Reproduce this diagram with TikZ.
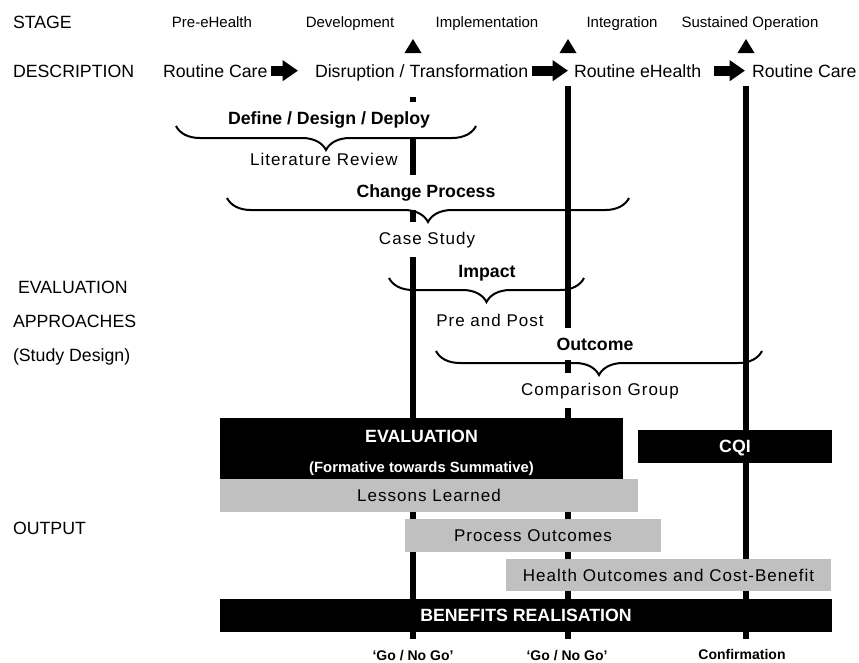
\documentclass[tikz,border=0pt]{standalone}
\usepackage{fontspec}
\setmainfont{Liberation Sans}
\newfontfamily\spacedfont[LetterSpace=6]{Liberation Sans}
\usetikzlibrary{decorations.pathreplacing,arrows.meta}

\definecolor{panelgrey}{RGB}{192,192,192}

\tikzset{
  every node/.style={inner sep=0pt, outer sep=0pt},
  rowlabel/.style={font=\fontsize{13.3}{16}\selectfont, anchor=base west},
  stagename/.style={font=\fontsize{11.25}{13}\selectfont, anchor=base},
  desc/.style={font=\fontsize{13.3}{16}\selectfont, anchor=base west},
  heading/.style={font=\fontsize{13.3}{16}\selectfont\bfseries, anchor=base,
    fill=white, inner xsep=2pt, inner ysep=7pt},
  design/.style={font=\spacedfont\fontsize{12.75}{15}\selectfont, anchor=base,
    fill=white, inner xsep=2pt, inner ysep=7pt},
  stem/.style={line width=4.5pt},
  gate/.style={fill=black},
  flow/.style={line width=7.5pt, -{Triangle[length=11.5pt, width=15pt]}},
  bracket/.style={decorate, decoration={brace, amplitude=18pt, mirror}, line width=1.5pt},
  blackbox/.style={fill=black, text=white, font=\fontsize{13.3}{16}\selectfont\bfseries,
    anchor=north west, text height=9.5pt, text depth=0pt},
  greybox/.style={fill=panelgrey, font=\spacedfont\fontsize{12.75}{15}\selectfont,
    anchor=north west, text height=9.1pt, text depth=0pt},
  boxtext/.style={text=white, font=\fontsize{13.3}{16}\selectfont\bfseries, anchor=base},
  boxsub/.style={text=white, font=\fontsize{11.1}{13}\selectfont\bfseries, anchor=base},
  milestone/.style={font=\fontsize{10.5}{12}\selectfont\bfseries, anchor=base},
}

\begin{document}
\begin{tikzpicture}[x=0.75pt, y=-0.75pt]
\useasboundingbox (0,0) rectangle (859,662);

% row labels
\node[rowlabel] (lstage) at (13,28) {STAGE};
\node[rowlabel] (ldesc) at (13,77) {DESCRIPTION};
\node[rowlabel] (leval) at (18,293) {EVALUATION};
\node[rowlabel] (lappr) at (13,327) {APPROACHES};
\node[rowlabel] (lstudy) at (13,361) {(Study Design)};
\node[rowlabel] (lout) at (13,534) {OUTPUT};

% stages
\node[stagename] (s1) at (212,27) {Pre-eHealth};
\node[stagename] (s2) at (350,27) {Development};
\node[stagename] (s3) at (487,27) {Implementation};
\node[stagename] (s4) at (622,27) {Integration};
\node[stagename] (s5) at (750,27) {Sustained Operation};

% description row
\node[desc] (rc1) at (163,77) {Routine Care};
\node[desc] (dis) at (315,77) {Disruption / Transformation};
\node[desc] (reh) at (574,77) {Routine eHealth};
\node[desc] (rc2) at (752,77) {Routine Care};

\draw[flow, shorten <=3pt, shorten >=12.75pt] (rc1.east) -- (rc1.east -| dis.west);
\draw[flow, shorten <=3pt, shorten >=4.5pt] (dis.east |- reh.west) -- (reh.west);
\draw[flow, shorten <=9.75pt, shorten >=5.25pt] (reh.east) -- (reh.east -| rc2.west);

% decision gates: arrow heads and vertical stems
\coordinate (g1top) at (413,97);  \coordinate (g1bot) at (413,639);
\coordinate (g2top) at (568,86);  \coordinate (g2bot) at (568,639);
\coordinate (g3top) at (746,86);  \coordinate (g3bot) at (746,639);
\fill[gate] (404.5,53) -- (421.5,53) -- (413,39) -- cycle;
\fill[gate] (559.5,53) -- (576.5,53) -- (568,39) -- cycle;
\fill[gate] (737.5,53) -- (754.5,53) -- (746,39) -- cycle;
\draw[stem] (g1top) -- (g1bot);
\draw[stem] (g2top) -- (g2bot);
\draw[stem] (g3top) -- (g3bot);

% evaluation approaches
\node[heading] (hdefine) at (329,124) {Define / Design / Deploy};
\node[design] (dlit) at (324,165) {Literature Review};
\node[heading] (hchange) at (426,197) {Change Process};
\node[design] (dcase) at (427,244) {Case Study};
\node[heading] (himpact) at (487,277) {Impact};
\node[design] (dpre) at (490,326) {Pre and Post};
\node[heading] (houtcome) at (595,350) {Outcome};
\node[design] (dcomp) at (600,395) {Comparison Group};

\draw[bracket] (176,126) -- (476,126);
\draw[bracket] (227,198) -- (629,198);
\draw[bracket] (389,278) -- (584,278);
\draw[bracket] (436,351) -- (762,351);

% outputs
\node[blackbox, minimum width=403*0.75pt, minimum height=62*0.75pt] (evalbox) at (220,418) {};
\node[boxtext] (evaltitle) at (421.5,442) {EVALUATION};
\node[boxsub] (evalsub) at (421.5,472) {(Formative towards Summative)};
\node[blackbox, minimum width=194*0.75pt, minimum height=33*0.75pt] (cqi) at (638,430) {CQI};
\node[greybox, minimum width=418*0.75pt, minimum height=33*0.75pt] (lessons) at (220,479) {Lessons Learned};
\node[greybox, minimum width=256*0.75pt, minimum height=33*0.75pt] (process) at (405,519) {Process Outcomes};
\node[greybox, minimum width=325*0.75pt, minimum height=32*0.75pt] (health) at (506,559) {Health Outcomes and Cost-Benefit};
\node[blackbox, minimum width=612*0.75pt, minimum height=33*0.75pt] (benefits) at (220,599) {BENEFITS REALISATION};

% milestones
\node[milestone] (m1) at (413,660) {‘Go / No Go’};
\node[milestone] (m2) at (567,660) {‘Go / No Go’};
\node[milestone] (m3) at (742,659) {Confirmation};
\end{tikzpicture}
\end{document}
